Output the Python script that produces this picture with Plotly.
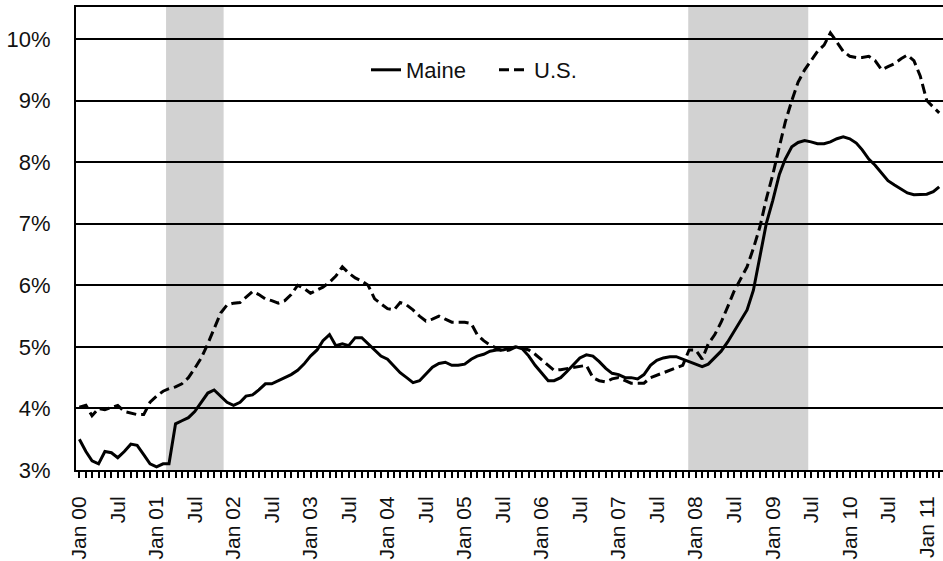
import pandas as pd
import plotly.graph_objects as go

# ---------------- data ----------------
start_month = "2000-01-01"
maine = [
    3.5, 3.3, 3.15, 3.1, 3.3, 3.28, 3.2, 3.3, 3.42, 3.4, 3.25, 3.1,          # 2000
    3.05, 3.1, 3.1, 3.75, 3.8, 3.85, 3.95, 4.1, 4.25, 4.3, 4.2, 4.1,         # 2001
    4.05, 4.1, 4.2, 4.22, 4.3, 4.4, 4.4, 4.45, 4.5, 4.55, 4.62, 4.72,        # 2002
    4.85, 4.95, 5.1, 5.2, 5.02, 5.05, 5.02, 5.15, 5.15, 5.05, 4.95, 4.85,    # 2003
    4.8, 4.68, 4.58, 4.5, 4.42, 4.45, 4.55, 4.67, 4.73, 4.75, 4.7, 4.7,      # 2004
    4.72, 4.8, 4.85, 4.88, 4.93, 4.95, 4.95, 4.98, 5.0, 4.97, 4.85, 4.7,     # 2005
    4.58, 4.45, 4.45, 4.5, 4.6, 4.72, 4.82, 4.87, 4.85, 4.76, 4.65, 4.57,    # 2006
    4.55, 4.5, 4.5, 4.48, 4.55, 4.7, 4.78, 4.82, 4.84, 4.84, 4.8, 4.75,      # 2007
    4.72, 4.68, 4.72, 4.82, 4.93, 5.08, 5.25, 5.42, 5.6, 5.92, 6.5, 7.0,     # 2008
    7.38, 7.8, 8.05, 8.25, 8.32, 8.35, 8.33, 8.3, 8.3, 8.33, 8.38, 8.41,     # 2009
    8.38, 8.31, 8.2, 8.05, 7.95, 7.82, 7.7, 7.63, 7.56, 7.5, 7.47, 7.47,     # 2010
    7.48, 7.52, 7.6,                                                         # 2011
]
us = [
    4.02, 4.05, 3.88, 4.0, 3.98, 4.02, 4.05, 3.95, 3.92, 3.9, 3.9, 4.1,      # 2000
    4.2, 4.28, 4.32, 4.35, 4.4, 4.5, 4.65, 4.82, 5.05, 5.3, 5.55, 5.68,      # 2001
    5.71, 5.72, 5.8, 5.9, 5.85, 5.78, 5.75, 5.71, 5.75, 5.85, 6.0, 5.95,     # 2002
    5.87, 5.92, 5.97, 6.05, 6.15, 6.3, 6.2, 6.12, 6.07, 6.0, 5.78, 5.7,      # 2003
    5.62, 5.6, 5.72, 5.68, 5.6, 5.5, 5.42, 5.45, 5.5, 5.45, 5.4, 5.4,       # 2004
    5.4, 5.38, 5.2, 5.1, 5.03, 4.98, 4.93, 4.95, 5.0, 4.98, 4.95, 4.88,      # 2005
    4.79, 4.7, 4.62, 4.63, 4.65, 4.66, 4.68, 4.7, 4.5, 4.45, 4.43, 4.48,     # 2006
    4.5, 4.45, 4.41, 4.41, 4.41, 4.5, 4.54, 4.58, 4.62, 4.66, 4.7, 4.95,     # 2007
    4.95, 4.8, 5.05, 5.2, 5.4, 5.65, 5.9, 6.1, 6.3, 6.6, 6.95, 7.4,          # 2008
    7.8, 8.25, 8.65, 9.0, 9.3, 9.5, 9.65, 9.8, 9.9, 10.1, 9.95, 9.8,         # 2009
    9.72, 9.7, 9.7, 9.72, 9.65, 9.5, 9.55, 9.6, 9.68, 9.74, 9.65, 9.4,       # 2010
    9.0, 8.9, 8.8,                                                           # 2011
]
tick_labels = ["Jan 00", "Jul", "Jan 01", "Jul", "Jan 02", "Jul", "Jan 03", "Jul",
               "Jan 04", "Jul", "Jan 05", "Jul", "Jan 06", "Jul", "Jan 07", "Jul",
               "Jan 08", "Jul", "Jan 09", "Jul", "Jan 10", "Jul", "Jan 11"]
recession_starts = ["2001-02-15", "2007-11-27"]
recession_ends = ["2001-11-15", "2009-06-18"]
y_ticks = [3, 4, 5, 6, 7, 8, 9, 10]
y_tick_labels = ["3%", "4%", "5%", "6%", "7%", "8%", "9%", "10%"]

months = pd.date_range(start_month, periods=len(maine), freq="MS")
tick_dates = pd.date_range(start_month, periods=len(tick_labels), freq="6MS")

FONT = "Liberation Sans, Arial, sans-serif"

fig = go.Figure()
fig.add_trace(go.Scatter(x=months, y=maine, mode="lines", name="Maine",
                         line=dict(color="#000000", width=3)))
fig.add_trace(go.Scatter(x=months, y=us, mode="lines", name="U.S.",
                         line=dict(color="#000000", width=3, dash="10px,5px")))

for s, e in zip(recession_starts, recession_ends):
    fig.add_shape(type="rect", xref="x", yref="paper", x0=s, x1=e, y0=0, y1=1,
                  fillcolor="#d2d2d2", line=dict(width=0), layer="between")

fig.update_layout(
    width=943, height=561,
    margin=dict(l=76, r=0, t=7, b=91, autoexpand=False),
    paper_bgcolor="white", plot_bgcolor="white",
    font=dict(family=FONT, color="#111111"),
    showlegend=True,
    legend=dict(orientation="h", x=(366 - 76) / 867, y=(470 - 70) / 463,
                xanchor="left", yanchor="middle", font=dict(size=22, family=FONT),
                bgcolor="rgba(0,0,0,0)", entrywidth=83, itemwidth=30),
)
fig.update_xaxes(
    type="date", range=["1999-12-16", "2011-03-19"],
    tickvals=tick_dates, ticktext=tick_labels, tickangle=-90,
    tickfont=dict(size=21, family=FONT, color="#111111"),
    ticks="outside", ticklen=6, tickwidth=1.5, tickcolor="#000000",
    minor=dict(dtick="M1", tick0=start_month, ticks="outside", ticklen=6,
               tickwidth=1.5, tickcolor="#000000", showgrid=False),
    showgrid=False, zeroline=False,
    showline=True, linecolor="#000000", linewidth=2, mirror=True,
    ticklabelstandoff=10,
)
fig.update_yaxes(
    range=[3, 10.52], tickvals=y_ticks, ticktext=y_tick_labels,
    tickfont=dict(size=22, family=FONT, color="#111111"),
    ticks="", showgrid=True, gridcolor="#000000", gridwidth=1.5,
    zeroline=False, showline=True, linecolor="#000000", linewidth=2,
    ticklabelstandoff=19,
)

fig.write_html("out.html", config={"displayModeBar": False},
               post_script="document.body.style.margin='0';document.body.style.overflow='hidden';")
